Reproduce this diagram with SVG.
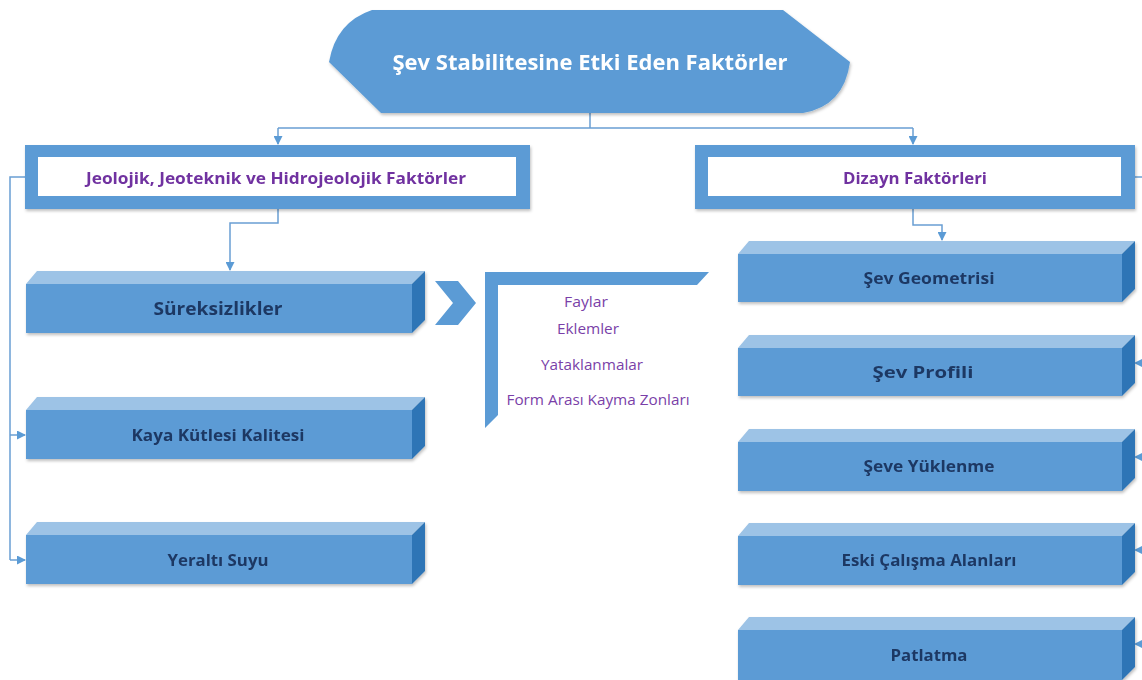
<svg xmlns="http://www.w3.org/2000/svg" width="1142" height="680" viewBox="0 0 1142 680">
<defs>
<style>
.ln{fill:none;stroke:#6A9FD3;stroke-width:1.5}
.ah{fill:#5B9BD5}
.front{fill:#5B9BD5}
.top{fill:#9DC3E6}
.side{fill:#2E75B6}
.bt{font-family:"Open Sans","Liberation Sans",Arial,sans-serif;font-weight:bold;fill:#1F3864;text-anchor:middle}
.pt{font-family:"Open Sans","Liberation Sans",Arial,sans-serif;font-weight:bold;fill:#7030A0;text-anchor:middle;font-size:16px}
.lt{font-family:"Open Sans","Liberation Sans",Arial,sans-serif;fill:#7A3FA8;text-anchor:middle;font-size:14px}
</style>
<marker id="arr" markerWidth="9" markerHeight="9" refX="8" refY="4.5" orient="auto" markerUnits="userSpaceOnUse">
<path d="M0,0 L9,4.5 L0,9 Z" fill="#5B9BD5"/>
</marker>
<filter id="sh" x="-5%" y="-5%" width="110%" height="120%">
<feDropShadow dx="1" dy="2" stdDeviation="1.5" flood-color="#000" flood-opacity="0.25"/>
</filter>
</defs>
<rect width="1142" height="680" fill="#FFFFFF"/>

<g id="connectors">
<path class="ln" d="M590,113 V128 M278,128 H913"/>
<path class="ln" d="M278,128 V144" marker-end="url(#arr)"/>
<path class="ln" d="M913,128 V144" marker-end="url(#arr)"/>
<path class="ln" d="M278,209 V223 H230 V270" marker-end="url(#arr)"/>
<path class="ln" d="M913,209 V225 H942 V240" marker-end="url(#arr)"/>
<path class="ln" d="M25,177 H10 V560"/>
<path class="ln" d="M10,435 H25" marker-end="url(#arr)"/>
<path class="ln" d="M10,560 H25" marker-end="url(#arr)"/>
<path class="ln" d="M1135,177 H1142"/>
<path class="ah" d="M1134,363 L1142,359 L1142,367 Z"/>
<path class="ah" d="M1134,457 L1142,453 L1142,461 Z"/>
<path class="ah" d="M1134,550 L1142,546 L1142,554 Z"/>
<path class="ah" d="M1134,644 L1142,640 L1142,648 Z"/>
</g>

<g id="title" filter="url(#sh)">
<path d="M372,10 L783,10 L850,62 Q844,106 803,113 L381,113 L329,62 Q336,22 372,10 Z" fill="#5B9BD5"/>
<text x="590" y="70" font-family="Open Sans, Liberation Sans, Arial, sans-serif" font-weight="bold" font-size="21" fill="#FFFFFF" text-anchor="middle" textLength="395" lengthAdjust="spacingAndGlyphs">Şev Stabilitesine Etki Eden Faktörler</text>
</g>

<g id="jeolojik" filter="url(#sh)">
<rect x="25" y="145" width="505" height="64" fill="#5B9BD5"/>
<rect x="38" y="157" width="478" height="39" fill="#FFFFFF"/>
<text class="pt" x="276" y="184" textLength="380" lengthAdjust="spacingAndGlyphs">Jeolojik, Jeoteknik ve Hidrojeolojik Faktörler</text>
</g>

<g id="dizayn" filter="url(#sh)">
<rect x="695" y="145" width="440" height="64" fill="#5B9BD5"/>
<rect x="708" y="157" width="413" height="39" fill="#FFFFFF"/>
<text class="pt" x="915" y="184" textLength="144" lengthAdjust="spacingAndGlyphs">Dizayn Faktörleri</text>
</g>

<g id="sureksizlikler" filter="url(#sh)">
<path class="top" d="M26,284 L37,271 L425,271 L412,284 Z"/>
<rect class="front" x="26" y="284" width="386" height="49"/>
<path class="side" d="M412,284 L425,271 L425,320 L412,333 Z"/>
<text class="bt" x="218" y="315" font-size="18" textLength="129" lengthAdjust="spacingAndGlyphs">Süreksizlikler</text>
</g>

<g id="kaya" filter="url(#sh)">
<path class="top" d="M26,410 L37,397 L425,397 L412,410 Z"/>
<rect class="front" x="26" y="410" width="386" height="49"/>
<path class="side" d="M412,410 L425,397 L425,446 L412,459 Z"/>
<text class="bt" x="218" y="441" font-size="16" textLength="173" lengthAdjust="spacingAndGlyphs">Kaya Kütlesi Kalitesi</text>
</g>

<g id="yeralti" filter="url(#sh)">
<path class="top" d="M26,535 L37,522 L425,522 L412,535 Z"/>
<rect class="front" x="26" y="535" width="386" height="49"/>
<path class="side" d="M412,535 L425,522 L425,571 L412,584 Z"/>
<text class="bt" x="218" y="566" font-size="16" textLength="101" lengthAdjust="spacingAndGlyphs">Yeraltı Suyu</text>
</g>

<g id="chevron">
<path d="M435,281 L458,281 L476,303 L458,325 L435,325 L453,303 Z" fill="#5B9BD5"/>
</g>

<g id="list">
<path d="M485,272 L709,272 L697,285 L498,285 L498,415 L485,428 Z" fill="#5B9BD5"/>
<text class="lt" x="586" y="307" textLength="44" lengthAdjust="spacingAndGlyphs">Faylar</text>
<text class="lt" x="588" y="334" textLength="62" lengthAdjust="spacingAndGlyphs">Eklemler</text>
<text class="lt" x="592" y="370" textLength="102" lengthAdjust="spacingAndGlyphs">Yataklanmalar</text>
<text class="lt" x="598" y="405" textLength="183" lengthAdjust="spacingAndGlyphs">Form Arası Kayma Zonları</text>
</g>

<g id="geometri" filter="url(#sh)">
<path class="top" d="M738,254 L749,241 L1135,241 L1122,254 Z"/>
<rect class="front" x="738" y="254" width="384" height="48"/>
<path class="side" d="M1122,254 L1135,241 L1135,289 L1122,302 Z"/>
<text class="bt" x="929" y="284" font-size="16" textLength="131" lengthAdjust="spacingAndGlyphs">Şev Geometrisi</text>
</g>

<g id="profil" filter="url(#sh)">
<path class="top" d="M738,348 L749,335 L1135,335 L1122,348 Z"/>
<rect class="front" x="738" y="348" width="384" height="48"/>
<path class="side" d="M1122,348 L1135,335 L1135,383 L1122,396 Z"/>
<text class="bt" x="923" y="378" font-size="16" textLength="101" lengthAdjust="spacingAndGlyphs">Şev Profili</text>
</g>

<g id="yuklenme" filter="url(#sh)">
<path class="top" d="M738,442 L749,429 L1135,429 L1122,442 Z"/>
<rect class="front" x="738" y="442" width="384" height="49"/>
<path class="side" d="M1122,442 L1135,429 L1135,478 L1122,491 Z"/>
<text class="bt" x="929" y="472" font-size="16" textLength="131" lengthAdjust="spacingAndGlyphs">Şeve Yüklenme</text>
</g>

<g id="eski" filter="url(#sh)">
<path class="top" d="M738,536 L749,523 L1135,523 L1122,536 Z"/>
<rect class="front" x="738" y="536" width="384" height="49"/>
<path class="side" d="M1122,536 L1135,523 L1135,572 L1122,585 Z"/>
<text class="bt" x="929" y="566" font-size="16" textLength="175" lengthAdjust="spacingAndGlyphs">Eski Çalışma Alanları</text>
</g>

<g id="patlatma" filter="url(#sh)">
<path class="top" d="M738,630 L749,617 L1135,617 L1122,630 Z"/>
<rect class="front" x="738" y="630" width="384" height="50"/>
<path class="side" d="M1122,630 L1135,617 L1135,667 L1122,680 Z"/>
<text class="bt" x="929" y="661" font-size="16" textLength="77" lengthAdjust="spacingAndGlyphs">Patlatma</text>
</g>
</svg>
